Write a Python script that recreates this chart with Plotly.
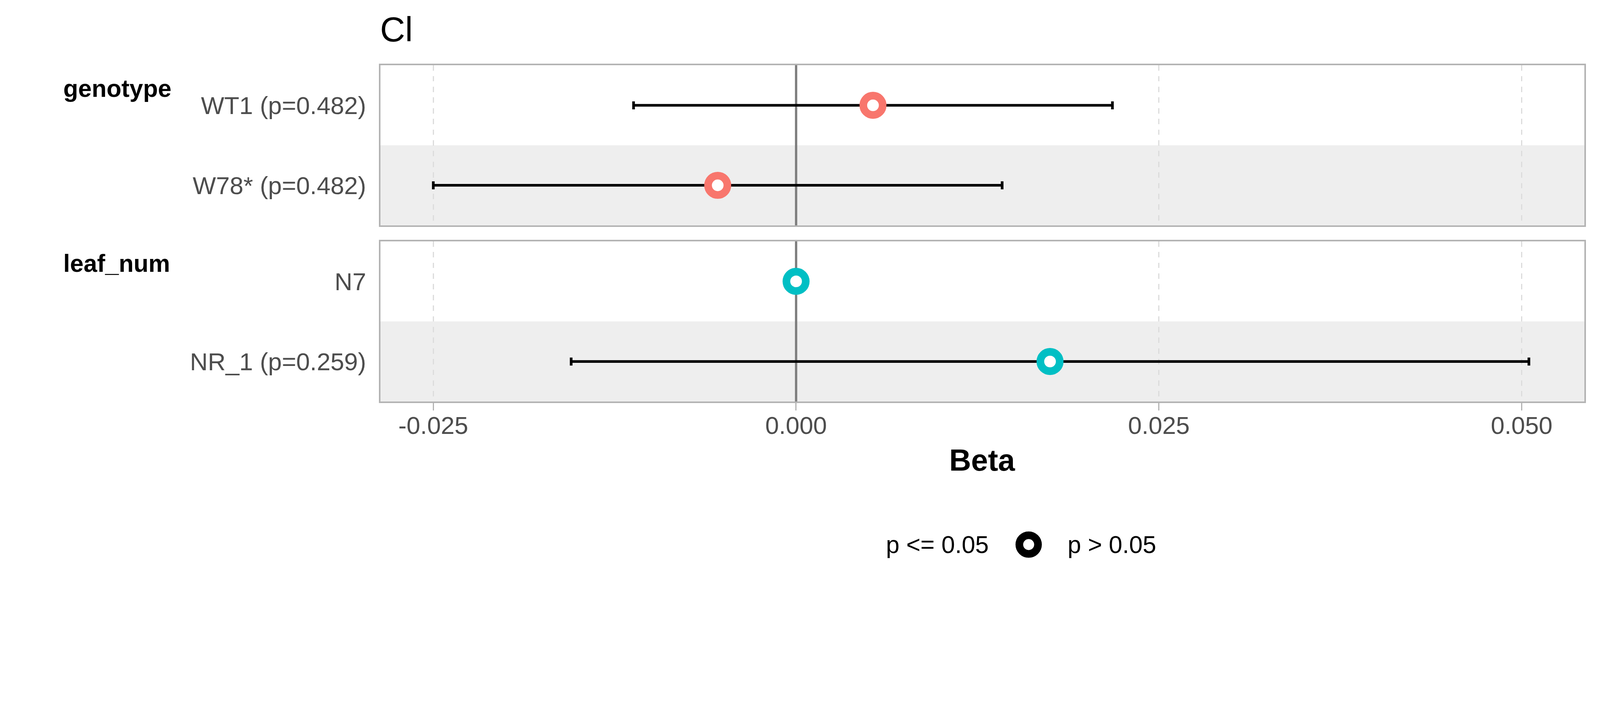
import plotly.graph_objects as go

# forest plot for Cl: estimates (beta) with 95% CI per term
groups = ["genotype", "genotype", "leaf_num", "leaf_num"]
labels = ["WT1 (p=0.482)", "W78* (p=0.482)", "N7", "NR_1 (p=0.259)"]
beta = [0.0053, -0.0054, 0.0, 0.0175]
ci_low = [-0.0112, -0.0250, 0.0, -0.0155]
ci_high = [0.0218, 0.0142, 0.0, 0.0505]
group_colors = {"genotype": "#F8766D", "leaf_num": "#00BFC4"}
group_names = ["genotype", "leaf_num"]

x_ticks = [-0.025, 0.0, 0.025, 0.050]
x_ticktext = ["-0.025", "0.000", "0.025", "0.050"]

FONT = "Liberation Sans, Arial, sans-serif"

# the page is photographed with a zoom, so work in target pixels and convert
S = 1.171875          # screen px per css px
PAD = 8               # body margin (css px)
W = int(4800 / S) - 2 * PAD
H = int(1800 / S) - 2 * PAD


def px_x(v):
    return (v / S - PAD) / W


def px_y(v):
    return 1 - (v / S - PAD) / H


def sz(v):
    return v / S


fig = go.Figure()

axis_ids = {"genotype": ("x2", "y2"), "leaf_num": ("x", "y")}

for g in group_names:
    idx = [i for i, gg in enumerate(groups) if gg == g]
    xa, ya = axis_ids[g]
    fig.add_trace(go.Scatter(
        x=[beta[i] for i in idx],
        y=[labels[i] for i in idx],
        mode="markers",
        xaxis=xa, yaxis=ya,
        marker=dict(size=sz(58), color="white", symbol="circle",
                    line=dict(color=group_colors[g], width=sz(23))),
        error_x=dict(type="data", symmetric=False,
                     array=[ci_high[i] - beta[i] for i in idx],
                     arrayminus=[beta[i] - ci_low[i] for i in idx],
                     color="black", thickness=sz(8), width=sz(12)),
        showlegend=False,
        hoverinfo="skip",
    ))

x_range = [-0.02865, 0.05432]
xdom = [px_x(1141), px_x(4753)]
dash = "%.1fpx,%.1fpx" % (sz(16), sz(16))

common_x = dict(range=x_range, tickvals=x_ticks, ticktext=x_ticktext,
                showgrid=True, gridcolor="#DCDCDC", gridwidth=sz(4), griddash=dash,
                zeroline=True, zerolinecolor="#808080", zerolinewidth=sz(7),
                showline=True, mirror=True, linecolor="#B3B3B3", linewidth=sz(5),
                domain=xdom, fixedrange=True)

common_y = dict(type="category", categoryorder="array", range=[-0.5, 1.5],
                showgrid=False, zeroline=False,
                showline=True, mirror=True, linecolor="#B3B3B3", linewidth=sz(5),
                ticks="outside", ticklen=sz(23), tickcolor="rgba(0,0,0,0)",
                tickfont=dict(size=sz(74), color="#4D4D4D"), fixedrange=True)

fig.update_layout(
    width=W, height=H,
    margin=dict(l=0, r=0, t=0, b=0),
    paper_bgcolor="white", plot_bgcolor="white",
    font=dict(family=FONT, size=sz(74), color="#4D4D4D"),
    xaxis=dict(**common_x, anchor="y", ticks="outside", ticklen=sz(22),
               tickwidth=sz(4), tickcolor="#B3B3B3", ticklabelstandoff=-16,
               tickfont=dict(size=sz(74), color="#4D4D4D")),
    xaxis2=dict(**common_x, anchor="y2", matches="x", showticklabels=False),
    yaxis=dict(**common_y, domain=[px_y(1205), px_y(724)], anchor="x",
               categoryarray=[labels[3], labels[2]]),
    yaxis2=dict(**common_y, domain=[px_y(676), px_y(196)], anchor="x2",
                categoryarray=[labels[1], labels[0]]),
)

# shaded lower row in each panel
for g in group_names:
    xa, ya = axis_ids[g]
    fig.add_shape(type="rect", xref=xa + " domain", yref=ya,
                  x0=0, x1=1, y0=-0.5, y1=0.5,
                  fillcolor="#EEEEEE", line=dict(width=0), layer="below")

# title
fig.add_annotation(text="Cl", xref="paper", yref="paper",
                   x=px_x(1138), y=px_y(89), xanchor="left", yanchor="middle",
                   showarrow=False, font=dict(size=sz(104), color="black"))

# group labels
for g, ypix in [("genotype", 265), ("leaf_num", 790)]:
    fig.add_annotation(text="<b>%s</b>" % g, xref="paper", yref="paper",
                       x=px_x(188), y=px_y(ypix), xanchor="left", yanchor="middle",
                       showarrow=False, font=dict(size=sz(73), color="black"))

# x axis title
fig.add_annotation(text="<b>Beta</b>", xref="paper", yref="paper",
                   x=px_x(2947), y=px_y(1380), xanchor="center", yanchor="middle",
                   showarrow=False, font=dict(size=sz(91), color="black"))

# legend (shape = significance)
fig.add_annotation(text="p <= 0.05", xref="paper", yref="paper",
                   x=px_x(2655), y=px_y(1634), xanchor="left", yanchor="middle",
                   showarrow=False, font=dict(size=sz(73), color="black"))
fig.add_annotation(text="p > 0.05", xref="paper", yref="paper",
                   x=px_x(3200), y=px_y(1634), xanchor="left", yanchor="middle",
                   showarrow=False, font=dict(size=sz(73), color="black"))
fig.add_shape(type="circle", xref="paper", yref="paper",
              x0=px_x(3086 - 28), x1=px_x(3086 + 28),
              y0=px_y(1634 + 28), y1=px_y(1634 - 28),
              fillcolor="white", line=dict(color="black", width=sz(23)))

fig.write_html("out.html")
